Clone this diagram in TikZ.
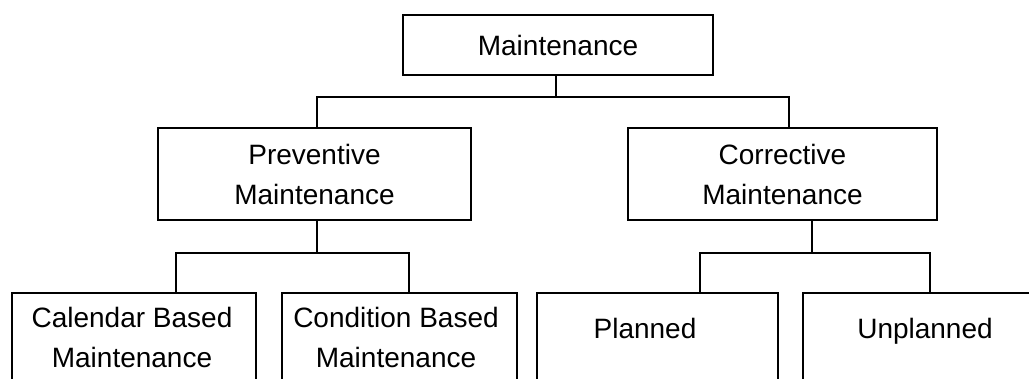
\documentclass[tikz,border=0pt]{standalone}
\usepackage{fontspec}
\setmainfont{Liberation Sans}
\begin{document}
\begin{tikzpicture}[x=1pt,y=-1pt,
 box/.style={draw, line width=2.5pt, inner sep=0pt, align=center},
 lbl/.style={inner sep=0pt, align=center},
 conn/.style={line width=1.5pt},
 every node/.style={font=\fontsize{28}{40}\selectfont}]
\useasboundingbox (0,0) rectangle (1029,378);
\clip (0,0) rectangle (1029,378);
% level 0
\node[box, minimum width=310pt, minimum height=60pt] (top) at (558,45) {Maintenance};
% level 1
\node[box, minimum width=313pt, minimum height=92pt] (prev) at (314.5,174) {Preventive\\Maintenance};
\node[box, minimum width=309pt, minimum height=92pt] (corr) at (782.5,174) {Corrective\\Maintenance};
% level 2 boxes (cut by the lower edge)
\node[box, minimum width=244pt, minimum height=120pt] (cal) at (134,353) {};
\node[box, minimum width=235pt, minimum height=120pt] (cond) at (399.5,353) {};
\node[box, minimum width=241pt, minimum height=120pt] (plan) at (657.5,353) {};
\node[box, minimum width=241pt, minimum height=120pt] (unpl) at (923.5,353) {};
\node[lbl] (calt) at (132,337) {Calendar Based\\Maintenance};
\node[lbl] (condt) at (396,337) {Condition Based\\Maintenance};
\node[lbl, anchor=base] (plant) at (645,338) {Planned};
\node[lbl, anchor=base] (unplt) at (925,338) {Unplanned};
% connectors
\coordinate (j0) at (556,97);
\coordinate (jl) at (317,97);
\coordinate (jr) at (789,97);
\draw[conn] (top.south -| j0) -- (j0);
\draw[conn] (prev.north -| jl) |- (jr) -- (corr.north -| jr);
\coordinate (p0) at (317,253);
\coordinate (pl) at (176,253);
\coordinate (pr) at (409,253);
\draw[conn] (prev.south -| p0) -- (p0);
\draw[conn] (cal.north -| pl) |- (pr) -- (cond.north -| pr);
\coordinate (c0) at (812,253);
\coordinate (cl) at (700,253);
\coordinate (cr) at (930,253);
\draw[conn] (corr.south -| c0) -- (c0);
\draw[conn] (plan.north -| cl) |- (cr) -- (unpl.north -| cr);
\end{tikzpicture}
\end{document}
